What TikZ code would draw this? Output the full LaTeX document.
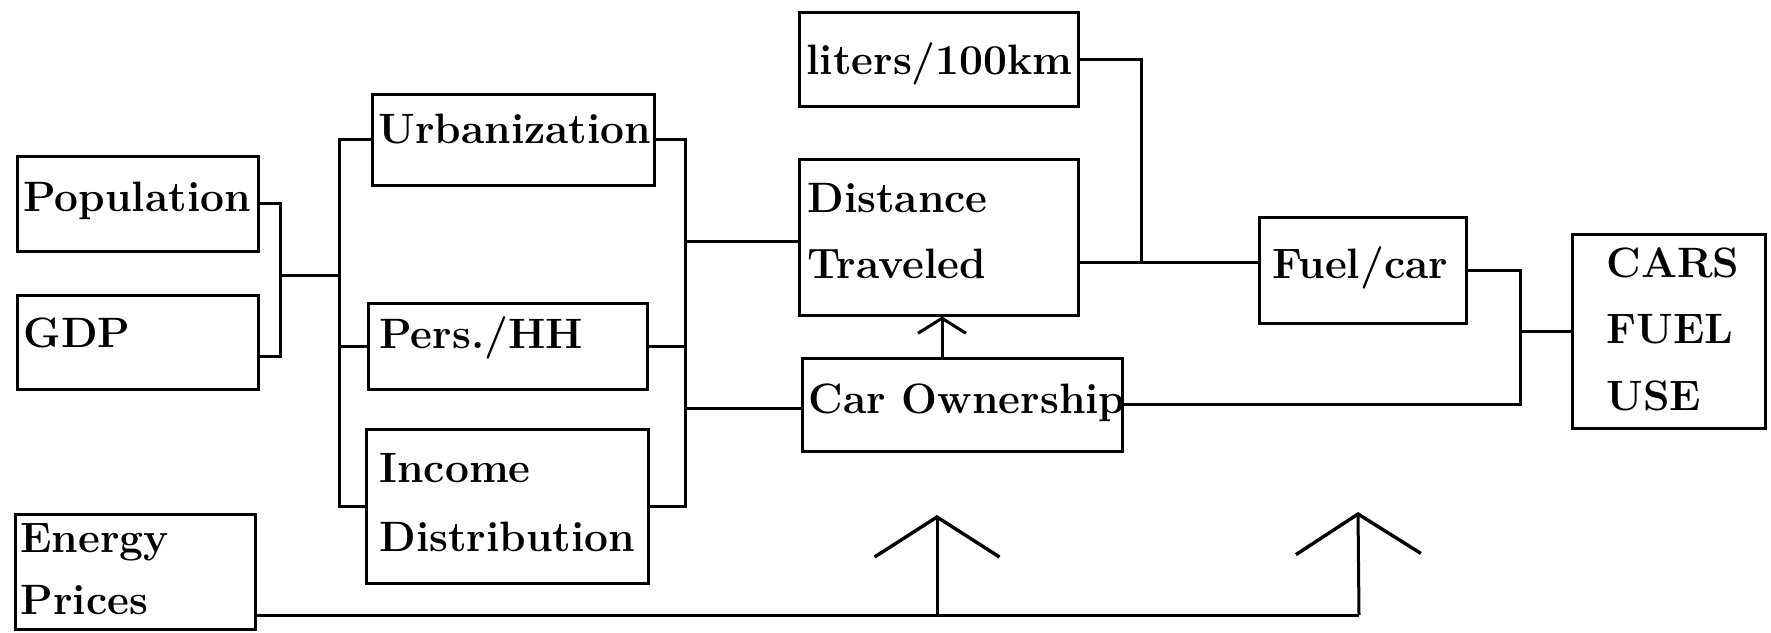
\documentclass[tikz,border=0pt]{standalone}
\usepackage{fontspec}
\usetikzlibrary{arrows.meta,calc}
\begin{document}
\begin{tikzpicture}[x=1pt,y=-1pt,line width=3pt,
  box/.style={draw,rectangle,inner sep=0pt},
  lbl/.style={anchor=base west,inner sep=0pt,font=\fontsize{42.5}{66}\selectfont\bfseries},
  smallarrow/.style={-{Straight Barb[length=15pt,width=48pt,line width=3pt]}},
  bigarrow/.style={-{Straight Barb[length=40pt,width=125pt,line width=3.4pt]}}]
\useasboundingbox (0,0) rectangle (1771,632);
% boxes
\node[box,minimum width=241pt,minimum height=95pt] (pop) at (137.5,203.5) {};
\node[box,minimum width=241pt,minimum height=94pt] (gdp) at (137.5,342) {};
\node[box,minimum width=282pt,minimum height=91pt] (urb) at (513,139.5) {};
\node[box,minimum width=279pt,minimum height=86pt] (pers) at (507.5,346) {};
\node[box,minimum width=282pt,minimum height=154pt] (inc) at (507,506) {};
\node[box,minimum width=240pt,minimum height=115pt] (energy) at (135,572) {};
\node[box,minimum width=279pt,minimum height=94pt] (liters) at (938.5,59) {};
\node[box,minimum width=279pt,minimum height=156pt] (dist) at (938.5,237) {};
\node[box,minimum width=320pt,minimum height=93pt] (car) at (962,404.5) {};
\node[box,minimum width=207pt,minimum height=106pt] (fuel) at (1362.5,270) {};
\node[box,minimum width=193pt,minimum height=194pt] (cars) at (1668.5,331) {};
% labels
\node[lbl] (popT) at (22,211) {Population};
\node[lbl] (gdpT) at (22,347) {GDP};
\node[lbl] (urbT) at (377,143) {Urbanization};
\node[lbl] (persT) at (378,348) {Pers./HH};
\node[lbl] (incT) at (378,482) {\renewcommand{\arraystretch}{1.06}\begin{tabular}[t]{@{}l@{}}Income\\Distribution\end{tabular}};
\node[lbl] (energyT) at (19,552) {\renewcommand{\arraystretch}{0.94}\begin{tabular}[t]{@{}l@{}}Energy\\Prices\end{tabular}};
\node[lbl] (litersT) at (805,74) {liters/100km};
\node[lbl] (distT) at (806,212) {\begin{tabular}[t]{@{}l@{}}Distance\\Traveled\end{tabular}};
\node[lbl] (carT) at (807,413) {Car Ownership};
\node[lbl] (fuelT) at (1271,278) {Fuel/car};
\node[lbl] (carsT) at (1605,277) {\renewcommand{\arraystretch}{1.015}\begin{tabular}[t]{@{}l@{}}CARS\\FUEL\\USE\end{tabular}};
% junction coordinates
\coordinate (jPG) at (280,356);
\coordinate (jPGm) at (280,275);
\coordinate (lb) at (339,506);
\coordinate (rb) at (685,506);
\coordinate (dl) at (685,241);
\coordinate (cl) at (685,408);
\coordinate (lj) at (1141,262);
\coordinate (fj) at (1520,404.5);
\coordinate (ca) at (942,380);
\coordinate (e1) at (937,615);
\coordinate (e2) at (1359,615);
\coordinate (t1) at (937,515);
\coordinate (t2) at (1358,512);
% connectors
\draw (pop.east) -| (jPG) -- (jPG -| gdp.east);
\draw (jPGm) -- (jPGm -| lb);
\draw (urb.west) -| (lb) -- (inc.west);
\draw (pers.west) -- (pers.west -| lb);
\draw (urb.east) -| (rb) -- (inc.east);
\draw (pers.east) -- (pers.east -| rb);
\draw (dl) -- (dist.west |- dl);
\draw (cl) -- (car.west |- cl);
\draw (liters.east) -| (lj);
\draw (dist.east |- lj) -- (fuel.west |- lj);
\draw (fuel.east) -| (fj) -- (car.east);
\draw (fj |- cars.west) -- (cars.west);
\draw[smallarrow] (car.north -| ca) -- (dist.south -| ca);
\draw (energy.east |- e1) -- (e2);
\draw[bigarrow] (e1) -- (t1);
\draw[bigarrow] (e2) -- (t2);
\end{tikzpicture}
\end{document}
